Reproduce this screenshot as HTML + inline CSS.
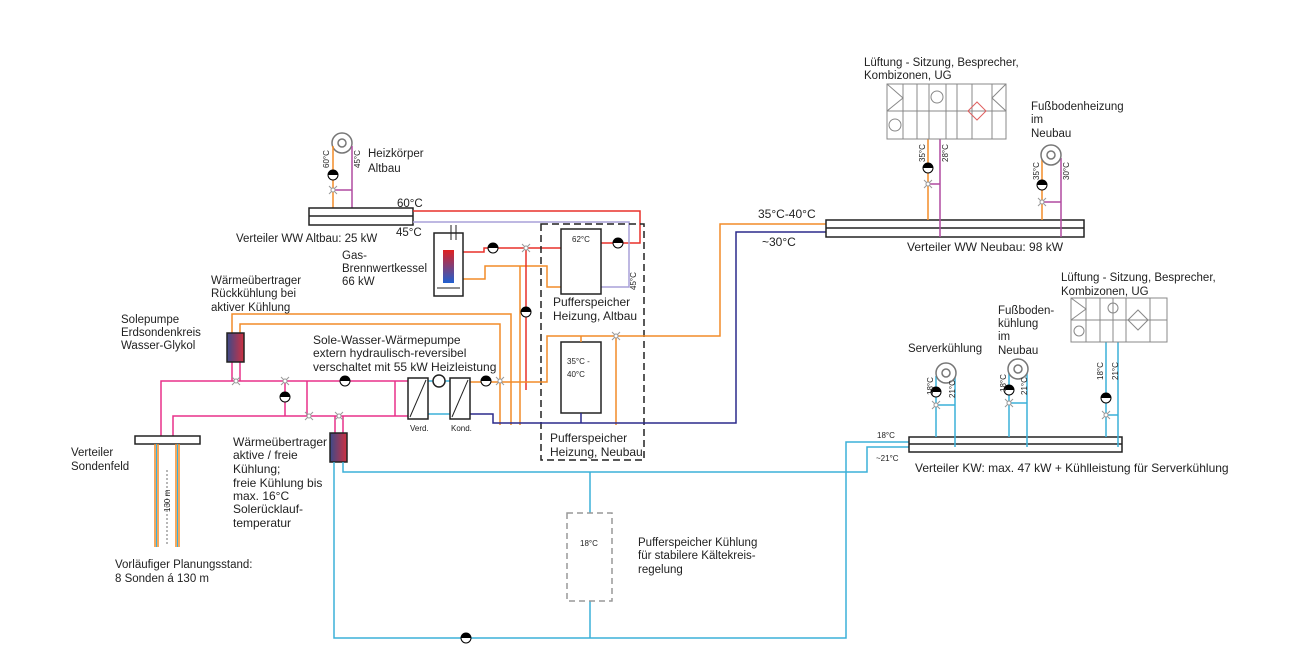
<!DOCTYPE html>
<html><head><meta charset="utf-8"><style>
html,body{margin:0;padding:0;background:#fff;}
svg{display:block;font-family:"Liberation Sans",sans-serif;}
text{fill:#222;font-size:11.5px;}
.b{font-size:12px;}
.s{font-size:8px;}
</style></head><body>
<svg width="1300" height="667" viewBox="0 0 1300 667">
<defs>
<linearGradient id="hx" x1="0" x2="1"><stop offset="0" stop-color="#3a4a8a"/><stop offset="1" stop-color="#d03040"/></linearGradient>
<linearGradient id="bk" x1="0" y1="0" x2="0" y2="1"><stop offset="0" stop-color="#e02020"/><stop offset="1" stop-color="#2060d0"/></linearGradient>
<g id="pump"><circle r="5" fill="#fff" stroke="#000" stroke-width="1"/><path d="M-5,0 A5,5 0 0 1 5,0 Z" fill="#000"/></g>
<g id="valve"><path d="M-4,-4 L4,4 M-4,4 L4,-4" stroke="#999" stroke-width="1"/><circle r="2" fill="#fff" stroke="#999"/></g>
</defs>
<g fill="none" stroke-width="1.5">
<circle cx="342" cy="143" r="10" stroke="#777" fill="#fff"/><circle cx="342" cy="143" r="4" stroke="#777"/>
<path d="M333,146 V208" stroke="#f28c28"/>
<path d="M352,146 V225" stroke="#b04aa0"/>
<path d="M333,190 H352" stroke="#b04aa0"/>
<rect x="309" y="208" width="104" height="17" stroke="#222" fill="#fff"/><path d="M309,216 H413" stroke="#222"/>
<path d="M413,211 H640 V243 H601" stroke="#e8312a"/>
<path d="M413,222 H629 V287 H601" stroke="#a8a0d8"/>
<path d="M463,252 H484 V248 H561" stroke="#e8312a"/>
<path d="M463,279 H485 V266 H547 V287 H561" stroke="#f28c28"/>
<path d="M526,250 V390" stroke="#e8312a"/>
<path d="M520,266 V425" stroke="#f28c28"/>
<rect x="561" y="229" width="40" height="65" stroke="#222" fill="#fff"/>
<rect x="561" y="342" width="40" height="71" stroke="#222" fill="#fff"/>
<rect x="541" y="224" width="103" height="236" stroke="#222" stroke-dasharray="7,4"/>
<path d="M232,333 V314 H511 V425" stroke="#f28c28"/>
<path d="M240,333 V324 H500 V425" stroke="#f28c28"/>
<path d="M470,382 H547 V336 H720 V224 H826" stroke="#f28c28"/>
<path d="M581,336 V342 M616,336 V425" stroke="#f28c28"/>
<path d="M470,414 H493 V423 H736 V232 H826" stroke="#2b2a8c"/>
<path d="M581,413 V423" stroke="#2b2a8c"/>
<path d="M161,436 V381 H408" stroke="#e8308a"/>
<path d="M173,436 V416 H408" stroke="#e8308a"/>
<path d="M285,381 V416 M307,381 V416 M395,381 V416" stroke="#e8308a"/>
<path d="M335,416 V433 M343,416 V433" stroke="#e8308a"/>
<path d="M232,362 V381 M240,362 V381" stroke="#e8308a"/>
<path d="M428,381 H470 M428,414 H450" stroke="#3bb0d8"/>
<rect x="408" y="378" width="20" height="41" stroke="#222" fill="#fff"/><path d="M410,417 L426,380" stroke="#222" stroke-width="1"/>
<rect x="450" y="378" width="20" height="41" stroke="#222" fill="#fff"/><path d="M452,417 L468,380" stroke="#222" stroke-width="1"/>
<circle cx="439" cy="381" r="6" stroke="#222" fill="#fff"/>
<rect x="227" y="333" width="17" height="29" fill="url(#hx)" stroke="#222"/>
<rect x="330" y="433" width="17" height="29" fill="url(#hx)" stroke="#222"/>
<rect x="434" y="233" width="29" height="63" stroke="#222" fill="#fff"/>
<path d="M451,225 V240 M456,225 V240 M437,288 H460" stroke="#222" stroke-width="1"/>
<rect x="443" y="250" width="11" height="33" fill="url(#bk)" stroke="none"/>
<rect x="135" y="436" width="65" height="8" stroke="#222" fill="#fff"/>
<path d="M155,444 V547 M158,444 V547 M176,444 V547 M179,444 V547" stroke="#f28c28"/>
<path d="M156.5,444 V547 M177.5,444 V547" stroke="#3bb0d8" stroke-width="1"/>
<path d="M167,470 V545" stroke="#333" stroke-width="0.7" stroke-dasharray="2,2"/>
<path d="M343,462 V472 H867 V447 H909" stroke="#3bb0d8"/>
<path d="M334,462 V638 H846 V442 H909" stroke="#3bb0d8"/>
<path d="M590,472 V513 M590,601 V638" stroke="#3bb0d8"/>
<rect x="567" y="513" width="45" height="88" stroke="#999" stroke-dasharray="6,4"/>
<rect x="909" y="437" width="213" height="15" stroke="#222" fill="#fff"/><path d="M909,444 H1122" stroke="#222"/>
<path d="M936,376 V437 M955,376 V447 M936,405 H955" stroke="#3bb0d8"/>
<path d="M1009,372 V437 M1027,372 V447 M1009,403 H1027" stroke="#3bb0d8"/>
<path d="M1106,342 V437 M1118,342 V447 M1106,415 H1118" stroke="#3bb0d8"/>
<circle cx="946" cy="373" r="10" stroke="#777" fill="#fff"/><circle cx="946" cy="373" r="4" stroke="#777"/>
<circle cx="1018" cy="369" r="10" stroke="#777" fill="#fff"/><circle cx="1018" cy="369" r="4" stroke="#777"/>
<rect x="826" y="220" width="258" height="17" stroke="#222" fill="#fff"/><path d="M826,228 H1084" stroke="#222"/>
<path d="M928,139 V220" stroke="#f28c28"/><path d="M940,139 V237 M928,184 H940" stroke="#b04aa0"/>
<path d="M1042,158 V220" stroke="#f28c28"/><path d="M1061,158 V237 M1042,202 H1061" stroke="#b04aa0"/>
<circle cx="1051" cy="155" r="10" stroke="#777" fill="#fff"/><circle cx="1051" cy="155" r="4" stroke="#777"/>
</g>
<g fill="none" stroke="#888" stroke-width="1">
<rect x="887" y="84" width="119" height="55" fill="#fff"/><path d="M887,111 H1006 M903,84 V139 M917,84 V139 M929,84 V139 M946,84 V139 M957,84 V139 M972,84 V139 M992,84 V139 M887,84 L903,98 L887,111 M1006,84 L992,98 L1006,111"/>
<circle cx="937" cy="97" r="6"/><circle cx="895" cy="125" r="6"/>
<path d="M968,111 L977,102 L986,111 L977,120 Z" stroke="#e06060"/>
<rect x="1071" y="298" width="96" height="44" fill="#fff"/><path d="M1071,320 H1167 M1086,298 V342 M1100,298 V342 M1113,298 V342 M1126,298 V342 M1150,298 V342 M1071,298 L1086,309 L1071,320"/>
<circle cx="1113" cy="308" r="5"/><circle cx="1079" cy="331" r="5"/>
<path d="M1128,320 L1138,310 L1148,320 L1138,330 Z"/>
</g>
<use href="#pump" x="333" y="175"/><use href="#valve" x="333" y="190"/>
<use href="#pump" x="618" y="243"/><use href="#pump" x="493" y="248"/><use href="#valve" x="526" y="248"/>
<use href="#pump" x="526" y="312"/><use href="#valve" x="616" y="336"/>
<use href="#valve" x="236" y="381"/><use href="#valve" x="285" y="381"/><use href="#pump" x="285" y="397"/>
<use href="#pump" x="345" y="381"/><use href="#valve" x="309" y="416"/><use href="#valve" x="339" y="416"/>
<use href="#pump" x="486" y="381"/><use href="#valve" x="500" y="381"/>
<use href="#pump" x="928" y="168"/><use href="#valve" x="928" y="184"/>
<use href="#pump" x="1042" y="185"/><use href="#valve" x="1042" y="202"/>
<use href="#pump" x="936" y="392"/><use href="#valve" x="936" y="405"/>
<use href="#pump" x="1009" y="390"/><use href="#valve" x="1009" y="403"/>
<use href="#pump" x="1106" y="398"/><use href="#valve" x="1106" y="415"/>
<use href="#pump" x="466" y="638"/>
<text x="368" y="157">Heizkörper</text><text x="368" y="172">Altbau</text>
<text x="397" y="207">60°C</text><text x="396" y="236">45°C</text>
<text x="236" y="242">Verteiler WW Altbau: 25 kW</text>
<text x="342" y="259">Gas-</text><text x="342" y="272">Brennwertkessel</text><text x="342" y="285">66 kW</text>
<text x="211" y="284">Wärmeübertrager</text><text x="211" y="297">Rückkühlung bei</text><text x="211" y="311">aktiver Kühlung</text>
<text x="121" y="323">Solepumpe</text><text x="121" y="336">Erdsondenkreis</text><text x="121" y="349">Wasser-Glykol</text>
<text class="b" x="313" y="344">Sole-Wasser-Wärmepumpe</text><text class="b" x="313" y="357">extern hydraulisch-reversibel</text><text class="b" x="313" y="371">verschaltet mit 55  kW Heizleistung</text>
<text class="b" x="553" y="306">Pufferspeicher</text><text class="b" x="553" y="320">Heizung, Altbau</text>
<text class="b" x="550" y="442">Pufferspeicher</text><text class="b" x="550" y="456">Heizung, Neubau</text>
<text class="s" x="572" y="242">62°C</text><text class="s" x="567" y="364">35°C  -</text><text class="s" x="567" y="377">40°C</text>
<text class="s" x="410" y="431">Verd.</text><text class="s" x="451" y="431">Kond.</text>
<text class="s" transform="translate(636,290) rotate(-90)">45°C</text>
<text class="s" transform="translate(329,168) rotate(-90)">60°C</text><text class="s" transform="translate(360,168) rotate(-90)">45°C</text>
<text x="71" y="456">Verteiler</text><text x="71" y="470">Sondenfeld</text>
<text class="b" x="233" y="446">Wärmeübertrager</text><text class="b" x="233" y="459">aktive / freie</text><text class="b" x="233" y="473">Kühlung;</text><text class="b" x="233" y="487">freie Kühlung bis</text><text class="b" x="233" y="500">max. 16°C</text><text class="b" x="233" y="513">Solerücklauf-</text><text class="b" x="233" y="527">temperatur</text>
<text x="115" y="568">Vorläufiger Planungsstand:</text><text x="115" y="582">8 Sonden á 130 m</text>
<text class="s" x="580" y="546">18°C</text>
<text x="638" y="546">Pufferspeicher Kühlung</text><text x="638" y="559">für stabilere Kältekreis-</text><text x="638" y="573">regelung</text>
<text x="864" y="66">Lüftung - Sitzung, Besprecher,</text><text x="864" y="79">Kombizonen, UG</text>
<text x="1031" y="110">Fußbodenheizung</text><text x="1031" y="123">im</text><text x="1031" y="137">Neubau</text>
<text class="b" x="758" y="218">35°C-40°C</text><text class="b" x="762" y="246">~30°C</text>
<text class="b" x="907" y="251">Verteiler WW Neubau: 98 kW</text>
<text x="1061" y="281">Lüftung - Sitzung, Besprecher,</text><text x="1061" y="295">Kombizonen, UG</text>
<text x="998" y="314">Fußboden-</text><text x="998" y="327">kühlung</text><text x="998" y="340">im</text><text x="998" y="354">Neubau</text>
<text x="908" y="352">Serverkühlung</text>
<text class="s" x="877" y="438">18°C</text><text class="s" x="876" y="461">~21°C</text>
<text class="b" x="915" y="472">Verteiler KW: max. 47 kW + Kühlleistung für Serverkühlung</text>
<text class="s" transform="translate(925,162) rotate(-90)">35°C</text><text class="s" transform="translate(948,162) rotate(-90)">28°C</text>
<text class="s" transform="translate(1039,180) rotate(-90)">35°C</text><text class="s" transform="translate(1069,180) rotate(-90)">30°C</text>
<text class="s" transform="translate(933,395) rotate(-90)">18°C</text><text class="s" transform="translate(955,398) rotate(-90)">21°C</text>
<text class="s" transform="translate(1006,392) rotate(-90)">18°C</text><text class="s" transform="translate(1027,395) rotate(-90)">21°C</text>
<text class="s" transform="translate(1103,380) rotate(-90)">18°C</text><text class="s" transform="translate(1118,380) rotate(-90)">21°C</text>
<text class="s" transform="translate(170,512) rotate(-90)">130 m</text>
</svg>
</body></html>
